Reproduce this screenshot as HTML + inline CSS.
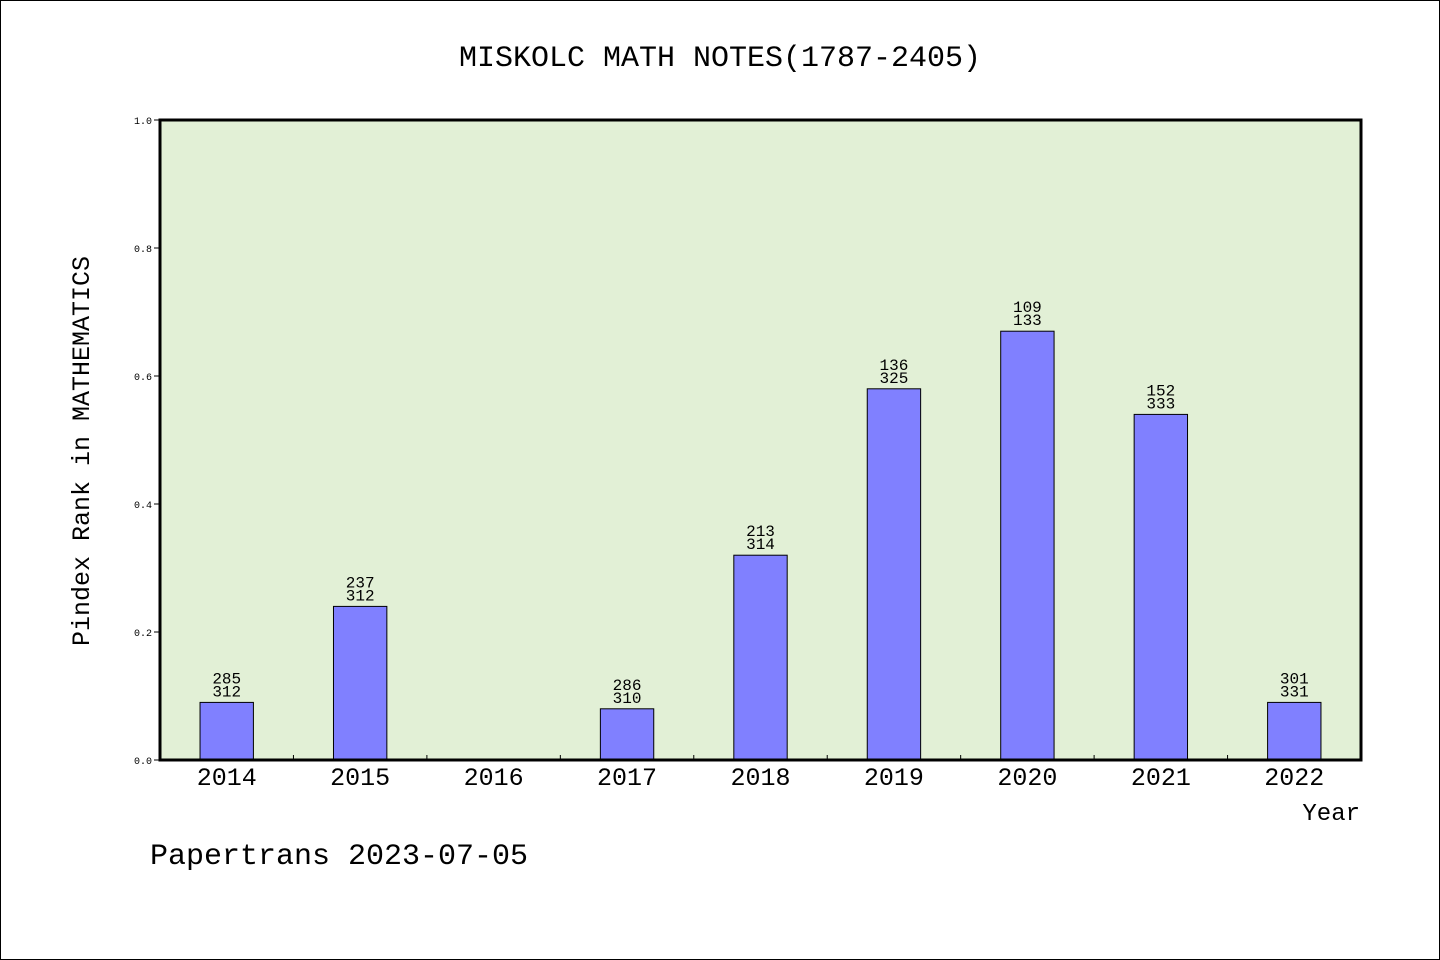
<!DOCTYPE html>
<html><head><meta charset="utf-8"><style>
html,body{margin:0;padding:0;background:#fff}
svg{display:block}
text{font-family:"Liberation Mono","DejaVu Sans Mono",monospace;fill:#000}
</style></head><body>
<svg id="c" width="1440" height="960">
<rect x="0.5" y="0.5" width="1439" height="959" fill="#fff" stroke="#000"/>
<text x="720" y="66" font-size="30" text-anchor="middle">MISKOLC MATH NOTES(1787-2405)</text>
<rect x="160" y="120" width="1201" height="640" fill="#e2f0d6"/>
<g id="bars"></g>
<g id="axes"></g>
<text transform="translate(89,451) rotate(-90)" font-size="25" text-anchor="middle">Pindex Rank in MATHEMATICS</text>
<text x="1360" y="820" font-size="24" text-anchor="end">Year</text>
<text x="150" y="864" font-size="30">Papertrans 2023-07-05</text>
</svg>
<script>
const categories=["2014","2015","2016","2017","2018","2019","2020","2021","2022"];
const values=[0.09,0.24,0,0.08,0.32,0.58,0.67,0.54,0.09];
const labelTop=["285","237","","286","213","136","109","152","301"];
const labelBottom=["312","312","","310","314","325","133","333","331"];
const yTicks=[0,0.2,0.4,0.6,0.8,1.0];
const NS="http://www.w3.org/2000/svg";
const L=160,R=1361,T=120,B=760;
const band=(R-L)/categories.length;
const x=i=>L+band*(i+0.5);
const y=v=>B-(B-T)*v;
function mk(tag,a,p){const e=document.createElementNS(NS,tag);for(const k in a)e.setAttribute(k,a[k]);p.appendChild(e);return e;}
const bars=document.getElementById('bars'),axes=document.getElementById('axes');
const bw=band*0.4;
categories.forEach((c,i)=>{
  if(values[i]>0){
    const r=mk('rect',{x:x(i)-bw/2,y:y(values[i]),width:bw,height:B-y(values[i]),fill:'#8080ff',stroke:'#000','stroke-width':1},bars);
    
    
  }
  if(labelTop[i]){
    const t1=mk('text',{x:x(i),y:y(values[i])-19,'font-size':16,'text-anchor':'middle'},bars);t1.textContent=labelTop[i];
    
    
    const t2=mk('text',{x:x(i),y:y(values[i])-6,'font-size':16,'text-anchor':'middle'},bars);t2.textContent=labelBottom[i];
    
    
  }
  const xl=mk('text',{x:x(i),y:785,'font-size':25,'text-anchor':'middle'},axes);xl.textContent=c;
  
  
  if(i>0){const tk=mk('line',{x1:L+band*i,x2:L+band*i,y1:B,y2:B-5,stroke:'#000','stroke-width':1},axes);
  
  }
});
yTicks.forEach(v=>{
  const tk=mk('line',{x1:L-6,x2:L,y1:y(v),y2:y(v),stroke:'#000','stroke-width':1},axes);
  
  
  const t=mk('text',{x:L-8,y:y(v)+4,'font-size':10,'text-anchor':'end'},axes);t.textContent=v.toFixed(1);
  
  
});
const fr=mk('rect',{x:L,y:T,width:R-L,height:B-T,fill:'none',stroke:'#000','stroke-width':3},axes);


</script>
</body></html>
